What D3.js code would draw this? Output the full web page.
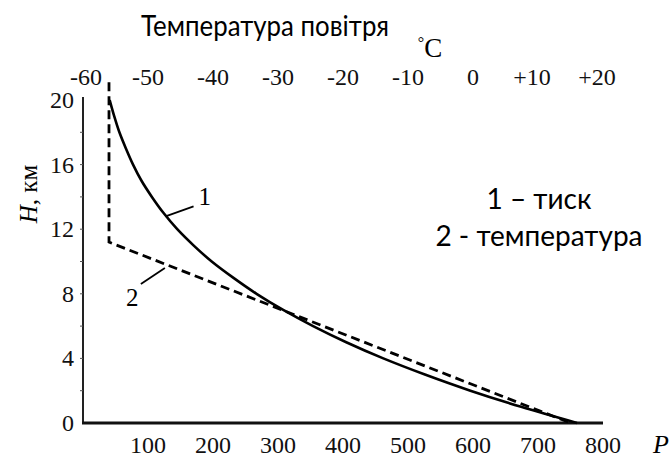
<!DOCTYPE html>
<html><head><meta charset="utf-8">
<script src="https://cdnjs.cloudflare.com/ajax/libs/d3/7.8.5/d3.min.js"></script>
<style>body{margin:0;background:#fff}svg{display:block}</style>
</head><body>
<svg id="c" width="670" height="459"></svg>
<script>
// Data
const heights  = [0,1,2,3,4,5,6,7,8,9,10,11,12,13,14,15,16,17,18,19,20];
const pressure = [760,674,596,526,462,405,354,308,267,231,198,170,145,124,106,90,77,66,56,48,41];
const tempHeights = [21.1, 11.2, 0];
const tempValues  = [-56, -56, 15];
const pTicks = [100,200,300,400,500,600,700,800];
const hTicks = [0,4,8,12,16,20];
const tTicks = [-60,-50,-40,-30,-20,-10,0,10,20];
const tLabels = ["-60","-50","-40","-30","-20","-10","0","+10","+20"];
const title = "Температура повітря";
const legend = ["1 – тиск","2 - температура"];

const svg = d3.select("#c");
const serif = "'Liberation Serif','Times New Roman',serif";
const sans = "Lato,'Open Sans',sans-serif";

const x = d3.scaleLinear().domain([0,800]).range([83,603]);
const xt = d3.scaleLinear().domain([-60,20]).range([83,603]);
const y = d3.scaleLinear().domain([0,20]).range([423,100]);

// axes lines
svg.append("line").attr("x1",83).attr("x2",83).attr("y1",97).attr("y2",424)
  .attr("stroke","#222").attr("stroke-width",2);
svg.append("line").attr("x1",82).attr("x2",x(800)).attr("y1",423).attr("y2",423)
  .attr("stroke","#111").attr("stroke-width",3);
svg.selectAll(".mt").data(d3.range(2,20,2)).join("line")
  .attr("x1",80).attr("x2",83).attr("y1",d=>y(d)).attr("y2",d=>y(d))
  .attr("stroke","#555").attr("stroke-width",1);

// y tick labels
svg.selectAll(".yl").data(hTicks).join("text")
  .attr("x",74).attr("y",d=>y(d)+8).attr("text-anchor","end")
  .attr("font-family",serif).attr("font-size",24).attr("fill","#111").text(d=>d);
// y axis title
const yt = svg.append("text").attr("transform","translate(37,194) rotate(-90)")
  .attr("text-anchor","middle").attr("font-family",serif).attr("font-size",25);
yt.append("tspan").attr("font-style","italic").text("H");
yt.append("tspan").text(", км");

// bottom labels
svg.selectAll(".xl").data(pTicks).join("text")
  .attr("x",d=>x(d)).attr("y",453).attr("text-anchor","middle")
  .attr("font-family",serif).attr("font-size",24).attr("fill","#111").text(d=>d);
svg.append("text").attr("x",661).attr("y",453).attr("text-anchor","middle")
  .attr("font-family",serif).attr("font-style","italic").attr("font-size",26).text("P");

// top labels
const tShift = [3,0,0,0,0,0,0,-6,-6];
svg.selectAll(".tl").data(tTicks).join("text")
  .attr("x",(d,i)=>xt(d)+tShift[i]).attr("y",85).attr("text-anchor","middle")
  .attr("font-family",serif).attr("font-size",24).attr("fill","#111").text((d,i)=>tLabels[i]);
const dc = svg.append("text").attr("x",430).attr("y",57).attr("text-anchor","middle")
  .attr("font-family",serif).attr("font-size",27);
dc.append("tspan").attr("font-size",16).attr("dy",-9).text("°");
dc.append("tspan").attr("dy",9).text("C");
svg.append("text").attr("x",141).attr("y",36)
  .attr("font-family",sans).attr("font-size",28)
  .attr("textLength",248).attr("lengthAdjust","spacingAndGlyphs").text(title);

// legend
svg.selectAll(".lg").data(legend).join("text")
  .attr("x",539).attr("y",(d,i)=>209+i*37).attr("text-anchor","middle")
  .attr("font-family",sans).attr("font-size",28).text(d=>d);

// pressure curve
const pLine = d3.line().x((d,i)=>x(pressure[i])).y(d=>y(d)).curve(d3.curveMonotoneY);
svg.append("path").attr("d",pLine(heights)).attr("fill","none")
  .attr("stroke","#000").attr("stroke-width",2.6);

// temperature line
const tLine = d3.line().x((d,i)=>xt(tempValues[i])).y(d=>y(d));
svg.append("path").attr("d",tLine(tempHeights)).attr("fill","none")
  .attr("stroke","#000").attr("stroke-width",2.8).attr("stroke-dasharray","9,5");

// curve labels with leaders
const aH1 = 12.8, aP1 = 127;
svg.append("line").attr("x1",x(aP1)).attr("y1",y(aH1)).attr("x2",x(aP1)+28).attr("y2",y(aH1)-10)
  .attr("stroke","#000").attr("stroke-width",1.8);
svg.append("text").attr("x",x(aP1)+33).attr("y",y(aH1)-11).attr("font-family",serif)
  .attr("font-size",25).text("1");
const aH2 = 9.6, aT2 = 15-6.5*9.6;
svg.append("line").attr("x1",xt(aT2)).attr("y1",y(aH2)).attr("x2",xt(aT2)-24).attr("y2",y(aH2)+16)
  .attr("stroke","#000").attr("stroke-width",1.8);
svg.append("text").attr("x",xt(aT2)-39).attr("y",y(aH2)+38).attr("font-family",serif)
  .attr("font-size",25).text("2");
</script>
</body></html>
